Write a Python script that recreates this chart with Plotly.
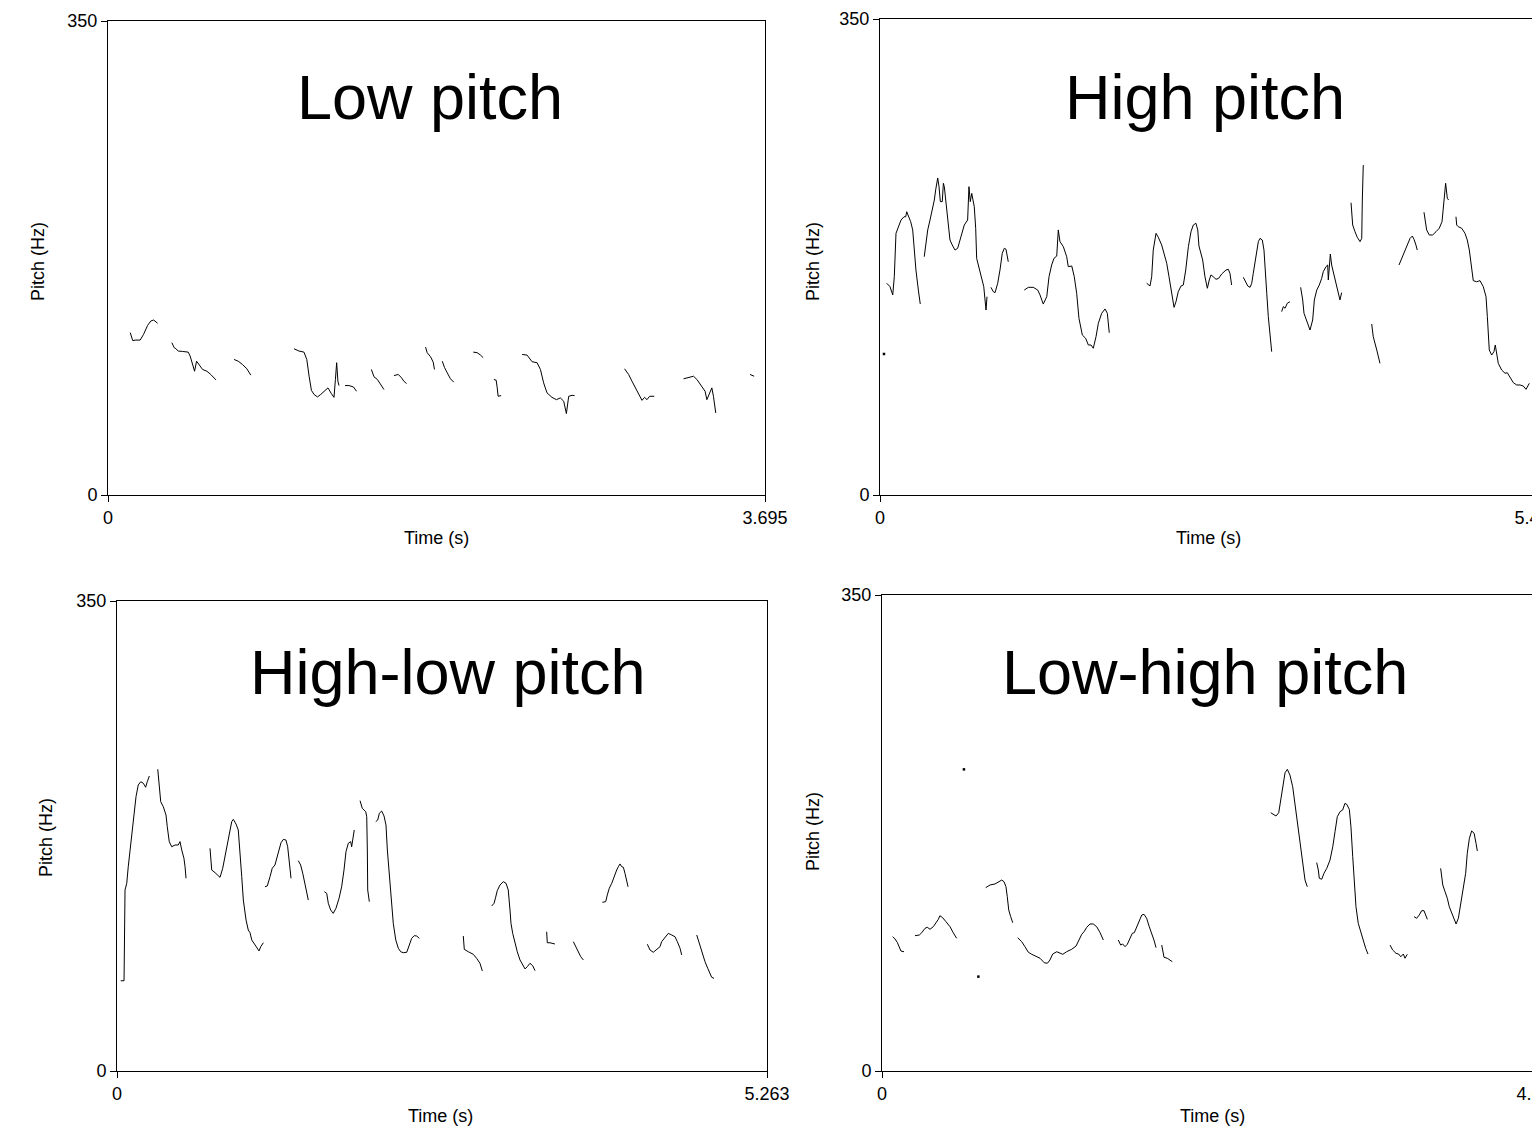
import plotly.graph_objects as go

# ---------------- data (time in s, pitch in Hz; None = unvoiced gap) ----------------
LOW_T = [0.125, 0.139, 0.157, 0.181, 0.200, 0.223, 0.241, 0.257, 0.279, None,
         0.359, 0.372, 0.382, 0.395, 0.419, 0.451, 0.462, 0.476, 0.487, 0.498, 0.513, 0.532, 0.556, 0.578, 0.607, None,
         0.709, 0.732, 0.756, 0.781, 0.803, None,
         1.046, 1.074, 1.102, 1.118, 1.131, 1.144, 1.159, 1.178, 1.196, 1.219, 1.237, 1.256, 1.271, 1.279, 1.286, 1.293, 1.299, None,
         1.333, 1.355, 1.380, 1.398, None,
         1.481, 1.496, 1.515, 1.533, 1.552, None,
         1.608, 1.633, 1.651, 1.664, 1.679, None,
         1.786, 1.795, 1.814, 1.829, 1.836, None,
         1.880, 1.893, 1.908, 1.926, 1.945, None,
         2.054, 2.076, 2.095, 2.110, None,
         2.170, 2.183, 2.189, 2.194, 2.211, None,
         2.329, 2.357, 2.385, 2.413, 2.432, 2.450, 2.469, 2.497, 2.522, 2.544, 2.563, 2.578, 2.591, 2.610, 2.624, None,
         2.905, 2.928, 2.947, 2.965, 2.984, 3.003, 3.018, 3.031, 3.046, 3.072, None,
         3.237, 3.265, 3.293, 3.312, 3.340, 3.358, 3.368, 3.383, 3.396, 3.405, 3.418, None,
         3.611, 3.634]
LOW_HZ = [119.9, 114.0, 114.4, 114.4, 118.6, 125.3, 128.5, 129.2, 126.8, None,
          112.5, 108.8, 108.0, 106.3, 106.0, 105.5, 102.6, 96.4, 91.4, 98.8, 96.4, 92.7, 91.4, 89.0, 85.0, None,
          100.1, 98.8, 96.4, 93.2, 88.5, None,
          108.0, 106.3, 105.5, 100.1, 87.7, 77.3, 74.2, 72.4, 74.2, 77.3, 79.1, 74.9, 72.1, 85.3, 97.7, 84.0, 80.8, None,
          80.8, 80.8, 79.8, 76.6, None,
          92.7, 87.3, 85.3, 81.6, 77.9, None,
          88.2, 89.0, 86.5, 84.0, 82.3, None,
          109.2, 105.1, 102.1, 98.1, 92.7, None,
          98.8, 94.0, 90.2, 85.8, 83.3, None,
          105.5, 105.1, 103.3, 101.4, None,
          85.3, 84.8, 79.1, 72.9, 73.4, None,
          103.8, 103.3, 98.4, 97.7, 92.7, 82.8, 75.4, 72.1, 70.4, 71.7, 69.2, 60.1, 72.9, 73.6, 73.4, None,
          93.2, 89.0, 84.0, 79.1, 74.2, 69.9, 72.1, 70.4, 72.9, 72.9, None,
          85.8, 87.0, 87.7, 85.3, 80.3, 76.6, 70.4, 75.4, 79.1, 72.9, 60.6, None,
          89.0, 87.7]

HIGH_T = [0.056, 0.083, 0.106, 0.119, 0.133, 0.152, 0.175, 0.200, 0.214, 0.222, 0.235, 0.255, 0.272, 0.285, 0.299, 0.319, 0.335, None,
          0.368, 0.388, 0.397, 0.416, 0.435, 0.452, 0.463, 0.472, 0.480, 0.491, 0.502, 0.518, 0.527, 0.535, 0.546, 0.563, 0.582,
          0.601, 0.624, 0.646, 0.665, 0.680, 0.701, 0.729, 0.740, 0.751, 0.763, 0.784, 0.796, 0.804, 0.823, 0.846, 0.863, 0.882, 0.890, None,
          0.923, 0.942, 0.957, 0.979, 0.998, 1.017, 1.034, 1.048, 1.067, None,
          1.200, 1.234, 1.275, 1.312, 1.331, 1.358, 1.387, 1.406, 1.428, 1.447, 1.470, 1.483, 1.497, 1.525, 1.553, 1.566,
          1.595, 1.616, 1.636, 1.655, 1.683, 1.711, 1.733, 1.755, 1.774, 1.797, 1.816, 1.844, 1.872, 1.891, 1.907, None,
          2.218, 2.246, 2.260, 2.273, 2.296, 2.315, 2.343, 2.365, 2.385, 2.404, 2.426, 2.446, 2.462, 2.481, 2.504, 2.523, 2.543,
          2.565, 2.587, 2.606, 2.628, 2.643, 2.653, 2.684, 2.703, 2.723, 2.739, 2.753, 2.772, 2.795, 2.817, 2.842, 2.878, 2.897, 2.911, 2.925, None,
          3.022, 3.042, 3.059, 3.078, 3.092, 3.105, 3.119, 3.133, 3.147, 3.161, 3.180, 3.194, 3.202, 3.217, 3.230, 3.244, 3.258, None,
          3.341, 3.355, 3.369, 3.388, 3.410, None,
          3.499, 3.516, 3.527, 3.549, 3.577, 3.599, 3.613, 3.633, 3.654, 3.674, 3.687, 3.710, 3.724, 3.729, 3.737, 3.746, 3.757,
          3.785, 3.804, 3.826, 3.840, None,
          3.918, 3.932, 3.951, 3.970, 3.993, 4.007, 4.012, 4.020, None,
          4.090, 4.103, 4.132, 4.159, None,
          4.317, 4.340, 4.361, 4.386, 4.409, 4.428, 4.442, 4.458, 4.469, None,
          4.525, 4.536, 4.547, 4.569, 4.597, 4.625, 4.652, 4.675, 4.686, 4.700, 4.705, 4.719, 4.730, None,
          4.791, 4.797, 4.810, 4.839, 4.866, 4.885, 4.902, 4.922, 4.935, 4.963, 4.991, 5.018, 5.041, 5.052, 5.068, 5.088,
          5.107, 5.118, 5.130, 5.143, 5.171, 5.199, 5.218, 5.240, 5.268, 5.296, 5.324, 5.351, 5.374, 5.401]
HIGH_HZ = [155.7, 153.2, 147.1, 160.5, 192.4, 197.3, 202.2, 204.6, 204.6, 208.3, 205.9, 201.0, 194.9, 180.1, 165.4, 150.7, 140.4, None,
           175.2, 187.5, 194.9, 202.2, 209.6, 216.9, 224.3, 231.6, 233.1, 226.7, 215.7, 215.7, 229.2, 226.7, 216.9, 202.2, 187.5,
           183.8, 180.1, 181.4, 187.5, 193.6, 198.5, 202.2, 226.7, 215.7, 221.8, 212.0, 196.1, 174.0, 167.9, 160.5, 153.2, 136.0, 145.8, None,
           152.7, 149.5, 148.8, 155.7, 165.4, 177.7, 181.4, 180.7, 171.5, None,
           150.7, 152.7, 152.7, 150.7, 147.1, 140.4, 145.8, 160.5, 169.1, 174.0, 175.7, 194.9, 186.3, 182.6, 175.2, 167.9,
           168.4, 160.5, 148.3, 129.9, 117.6, 115.2, 110.3, 110.3, 107.9, 116.4, 126.2, 133.6, 136.8, 133.6, 119.3, None,
           155.7, 153.7, 160.5, 180.1, 192.4, 189.5, 183.8, 177.7, 170.4, 160.5, 148.3, 138.0, 142.1, 149.5, 153.7, 154.4, 165.4,
           182.6, 193.6, 198.5, 199.8, 194.9, 183.1, 172.8, 160.5, 152.0, 158.1, 161.8, 160.5, 158.6, 159.3, 162.5, 165.4, 166.0, 163.0, 154.4, None,
           160.1, 156.8, 153.7, 152.7, 155.7, 163.0, 171.5, 180.1, 186.3, 188.7, 187.5, 180.1, 165.4, 148.3, 131.1, 116.4, 105.4, None,
           134.8, 138.5, 137.3, 141.0, 142.1, None,
           152.7, 143.4, 133.6, 127.4, 121.3, 128.7, 143.4, 150.7, 154.4, 159.3, 164.2, 167.9, 169.1, 158.1, 170.4, 177.2, 169.1,
           159.3, 150.7, 143.4, 148.8, None,
           214.9, 198.5, 193.6, 189.5, 186.3, 188.7, 216.9, 242.6, None,
           125.7, 116.4, 106.6, 96.8, None,
           169.1, 174.0, 177.7, 182.6, 188.7, 190.4, 188.0, 183.8, 180.1, None,
           207.9, 199.8, 194.9, 191.2, 191.2, 193.6, 196.1, 201.0, 212.0, 224.3, 229.2, 218.2, 216.9, None,
           204.6, 198.5, 197.3, 196.1, 192.4, 187.5, 180.1, 167.9, 157.6, 156.8, 157.6, 153.2, 145.8, 131.1, 106.6, 102.9,
           105.4, 110.3, 102.9, 96.8, 91.9, 89.5, 89.9, 87.0, 82.6, 80.9, 80.9, 80.1, 77.7, 82.1]
HIGH_DOT_T = [0.033]
HIGH_DOT_HZ = [103.7]

HILO_T = [0.030, 0.057, 0.065, 0.079, 0.091, 0.111, 0.132, 0.154, 0.172, 0.192, 0.213, 0.232, 0.245, 0.262, None,
          0.330, 0.340, 0.354, 0.375, 0.397, 0.407, 0.423, 0.443, 0.470, 0.496, 0.510, 0.524, 0.542, 0.551, 0.559, None,
          0.753, 0.767, 0.794, 0.812, 0.834, 0.856, 0.874, 0.893, 0.909, 0.929, 0.942, 0.964, 0.982, 0.996, 1.010, 1.023,
          1.045, 1.063, 1.077, 1.091, 1.109, 1.131, 1.150, 1.164, 1.185, None,
          1.198, 1.217, 1.239, 1.257, 1.279, 1.293, 1.312, 1.328, 1.347, 1.368, 1.382, 1.395, 1.409, None,
          1.468, 1.487, 1.504, 1.522, 1.536, 1.549, None,
          1.679, 1.698, 1.711, 1.730, 1.751, 1.773, 1.798, 1.819, 1.838, 1.854, 1.873, 1.892, 1.900, 1.913, 1.921, None,
          1.968, 1.986, 2.014, 2.022, 2.027, 2.030, 2.043, None,
          2.095, 2.111, 2.124, 2.143, 2.162, 2.178, 2.189, 2.205, 2.224, 2.237, 2.257, 2.278, 2.297, 2.318, 2.346, 2.364,
          2.386, 2.407, 2.427, 2.448, None,
          2.804, 2.812, 2.845, 2.885, 2.912, 2.939, 2.958, None,
          3.034, 3.053, 3.066, 3.079, 3.101, 3.128, 3.150, 3.168, 3.182, 3.190, 3.204, 3.223, 3.241, 3.263, 3.285, 3.304,
          3.322, 3.344, 3.366, 3.385, None,
          3.479, 3.484, 3.506, 3.546, None,
          3.695, 3.714, 3.735, 3.755, 3.776, None,
          3.930, 3.957, 3.970, 3.986, 4.006, 4.019, 4.032, 4.046, 4.059, 4.073, 4.087, 4.100, 4.113, 4.127, 4.138, None,
          4.294, 4.316, 4.342, 4.370, 4.397, 4.410, 4.437, 4.464, 4.491, 4.518, 4.537, 4.559, 4.572, None,
          4.694, 4.707, 4.721, 4.742, 4.761, 4.783, 4.801, 4.815, 4.834]
HILO_HZ = [67.2, 67.2, 134.8, 139.8, 152.1, 169.6, 189.4, 204.3, 213.0, 215.4, 214.3, 211.3, 215.4, 219.7, None,
           224.7, 214.3, 200.5, 196.8, 190.6, 181.9, 170.8, 167.0, 168.3, 168.3, 170.8, 164.6, 158.4, 152.1, 143.5, None,
           165.8, 149.7, 147.7, 146.0, 144.2, 151.0, 159.6, 169.6, 178.2, 185.7, 187.4, 183.9, 179.5, 164.6, 144.7, 127.3,
           112.4, 105.0, 103.0, 97.6, 95.1, 91.4, 89.4, 92.6, 95.5, None,
           137.2, 137.8, 144.7, 151.0, 153.4, 158.4, 165.8, 170.0, 172.5, 172.0, 167.0, 157.1, 143.5, None,
           156.6, 153.4, 147.2, 139.8, 133.5, 127.3, None,
           133.5, 132.3, 124.9, 119.9, 117.4, 121.2, 128.6, 137.2, 149.7, 163.3, 169.6, 170.8, 167.0, 174.5, 179.5, None,
           201.3, 195.6, 193.1, 189.4, 164.6, 134.8, 126.1, None,
           185.7, 186.9, 191.9, 193.6, 189.9, 183.2, 164.6, 144.7, 127.3, 110.0, 97.6, 91.4, 88.8, 88.1, 88.4, 92.6,
           98.8, 100.8, 100.5, 98.8, None,
           100.5, 90.6, 88.8, 86.9, 83.9, 80.2, 74.5, None,
           122.9, 124.9, 129.4, 134.3, 138.5, 141.0, 139.8, 134.8, 119.9, 110.0, 102.5, 95.1, 88.8, 82.7, 78.9, 76.0,
           77.7, 80.2, 78.4, 74.7, None,
           103.7, 95.5, 95.5, 94.6, None,
           96.3, 92.6, 87.7, 85.1, 82.7, None,
           125.6, 126.1, 131.1, 136.1, 139.8, 143.5, 146.0, 149.7, 152.1, 154.2, 152.1, 151.7, 147.2, 142.2, 137.2, None,
           94.4, 90.1, 88.4, 90.6, 92.6, 96.3, 99.6, 102.5, 101.3, 100.0, 96.3, 91.4, 86.4, None,
           101.3, 97.6, 92.6, 86.4, 81.4, 76.5, 72.0, 69.8, 69.0]

LOHI_T = [0.066, 0.080, 0.094, 0.107, 0.117, 0.136, None,
          0.203, 0.230, 0.245, 0.265, 0.279, 0.296, 0.316, 0.333, 0.347, 0.357, 0.374, 0.394, 0.419, 0.439, 0.460, None,
          0.639, 0.666, 0.696, 0.717, 0.738, 0.752, 0.764, 0.772, 0.781, 0.793, 0.806, None,
          0.836, 0.861, 0.881, 0.902, 0.923, 0.943, 0.974, 1.000, 1.019, 1.035, 1.052, 1.077, 1.097, 1.114, 1.138, 1.169,
          1.196, 1.216, 1.231, 1.245, 1.262, 1.282, 1.302, 1.323, 1.344, 1.364, None,
          1.456, 1.471, 1.483, 1.498, 1.512, 1.528, 1.543, 1.555, 1.570, 1.586, 1.601, 1.615, 1.631, 1.647, 1.662, 1.676, 1.689, None,
          1.724, 1.730, 1.738, 1.758, 1.775, 1.789, None,
          2.396, 2.412, 2.428, 2.445, 2.457, 2.470, 2.484, 2.498, 2.514, 2.531, 2.545, 2.560, 2.576, 2.593, 2.607, 2.621, None,
          2.679, 2.689, 2.695, 2.710, 2.724, 2.741, 2.761, 2.778, 2.792, 2.806, 2.823, 2.839, 2.853, 2.864, 2.880, 2.890,
          2.901, 2.911, 2.921, 2.935, 2.950, 2.966, 2.981, 2.995, None,
          3.131, 3.147, 3.168, 3.184, 3.197, 3.213, 3.223, 3.237, None,
          3.279, 3.295, 3.311, 3.326, 3.340, 3.351, 3.361, None,
          3.443, 3.449, 3.456, 3.470, 3.484, 3.496, 3.511, 3.525, 3.538, 3.552, 3.567, 3.583, 3.597, 3.607, 3.620, 3.634,
          3.649, 3.661, 3.669]
LOHI_HZ = [98.8, 97.1, 94.6, 91.4, 88.2, 87.7, None,
           99.5, 100.0, 101.7, 104.9, 105.7, 104.2, 106.1, 109.0, 111.5, 114.2, 112.7, 109.8, 106.1, 101.7, 97.6, None,
           134.8, 136.8, 137.5, 139.2, 140.4, 139.2, 135.5, 128.2, 118.4, 113.5, 109.0, None,
           98.0, 95.1, 91.4, 87.3, 85.8, 84.8, 82.9, 79.6, 79.2, 81.6, 86.0, 87.7, 86.5, 85.8, 87.7, 89.5,
           91.9, 96.3, 100.5, 102.4, 105.7, 108.1, 108.1, 106.1, 101.7, 96.3, None,
           96.3, 92.6, 93.4, 91.4, 93.2, 97.6, 101.3, 101.7, 106.1, 111.0, 114.7, 115.2, 112.3, 106.1, 101.3, 96.3, 90.7, None,
           92.6, 87.7, 83.6, 82.9, 81.6, 80.4, None,
           189.9, 189.0, 187.5, 189.9, 199.3, 210.3, 219.3, 221.8, 217.6, 209.0, 196.8, 184.6, 169.9, 155.1, 140.4, 135.5, None,
           153.2, 147.8, 141.7, 141.0, 145.4, 149.0, 155.1, 164.9, 176.0, 187.0, 190.7, 191.9, 196.8, 196.1, 192.4, 179.6,
           157.6, 138.0, 120.8, 108.6, 102.4, 96.3, 90.2, 86.0, None,
           92.6, 89.0, 86.5, 86.0, 84.0, 86.0, 82.9, 85.8, None,
           113.5, 112.3, 114.7, 117.9, 117.9, 114.7, 111.5, None,
           149.0, 142.9, 136.8, 131.8, 127.0, 120.8, 116.0, 111.0, 108.1, 112.3, 123.3, 133.1, 145.4, 160.1, 171.1, 176.5,
           174.8, 167.4, 161.8]
LOHI_DOT_T = [0.505, 0.594]
LOHI_DOT_HZ = [221.8, 69.4]

TITLES = ["Low pitch", "High pitch", "High-low pitch", "Low-high pitch"]
T_MAX = [3.695, 5.465, 5.263, 4.049]
T_MAX_LABELS = ["3.695", "5.465", "5.263", "4.049"]
PITCH_MAX = 350

# ---------------- layout helpers ----------------
# The page body has an 8 px margin, so the figure is 8 px smaller and positions are shifted by 8 px.
OFF = 8
W, H = 1540 - OFF, 1128 - OFF
FONT = "Liberation Sans, Arial, Helvetica, sans-serif"

# panel boxes in screen pixels: left, right, top, bottom
BOXES = [(108, 765, 21, 495), (880, 1537, 19, 495), (117, 767, 601, 1071), (882, 1539, 595, 1071)]
TITLE_POS = [(430, 97), (1205, 97), (448, 672), (1205, 672)]
XTITLE_POS = [(436, 538), (1208, 538), (440, 1116), (1212, 1116)]
YTITLE_POS = [(38, 262), (813, 262), (46, 838), (813, 832)]

def px(x):
    return (x - OFF) / W

def py(y):
    return 1 - (y - OFF) / H

fig = go.Figure()
series = [(LOW_T, LOW_HZ, None, None), (HIGH_T, HIGH_HZ, HIGH_DOT_T, HIGH_DOT_HZ),
          (HILO_T, HILO_HZ, None, None), (LOHI_T, LOHI_HZ, LOHI_DOT_T, LOHI_DOT_HZ)]

annotations = []
for i, (t, hz, dt, dhz) in enumerate(series):
    n = i + 1
    xa = "x" if n == 1 else f"x{n}"
    ya = "y" if n == 1 else f"y{n}"
    fig.add_trace(go.Scatter(x=t, y=hz, mode="lines", line=dict(color="black", width=1),
                             connectgaps=False, xaxis=xa, yaxis=ya, showlegend=False, hoverinfo="skip",
                             cliponaxis=True))
    if dt is not None:
        fig.add_trace(go.Scatter(x=dt, y=dhz, mode="markers", marker=dict(color="black", size=2.5, symbol="square"),
                                 xaxis=xa, yaxis=ya, showlegend=False, hoverinfo="skip"))
    l, r, tp, b = BOXES[i]
    axcommon = dict(showline=True, mirror=True, linecolor="black", linewidth=1, showgrid=False, zeroline=False,
                    ticks="outside", ticklen=6, tickwidth=1, tickcolor="black", automargin=False,
                    ticklabeloverflow="allow",
                    tickfont=dict(family=FONT, size=18, color="black"), fixedrange=True)
    xkey = "xaxis" if n == 1 else f"xaxis{n}"
    ykey = "yaxis" if n == 1 else f"yaxis{n}"
    fig.update_layout(**{
        xkey: dict(domain=[px(l), min(px(r), 1.0)], range=[0, T_MAX[i]], anchor=ya,
                   tickvals=[0, T_MAX[i]], ticktext=["0", T_MAX_LABELS[i]], **axcommon),
        ykey: dict(domain=[py(b), py(tp)], range=[0, PITCH_MAX], anchor=xa,
                   tickvals=[0, PITCH_MAX], ticktext=["0", "350"], **axcommon),
    })
    annotations.append(dict(text=TITLES[i], x=px(TITLE_POS[i][0]), y=py(TITLE_POS[i][1]), xref="paper", yref="paper",
                            xanchor="center", yanchor="middle", showarrow=False,
                            font=dict(family=FONT, size=63, color="black")))
    annotations.append(dict(text="Time (s)", x=px(XTITLE_POS[i][0]), y=py(XTITLE_POS[i][1]), xref="paper", yref="paper",
                            xanchor="center", yanchor="middle", showarrow=False,
                            font=dict(family=FONT, size=18, color="black")))
    annotations.append(dict(text="Pitch (Hz)", x=px(YTITLE_POS[i][0]), y=py(YTITLE_POS[i][1]), xref="paper", yref="paper",
                            xanchor="center", yanchor="middle", showarrow=False, textangle=-90,
                            font=dict(family=FONT, size=18, color="black")))

fig.update_layout(width=W, height=H, margin=dict(l=0, r=0, t=0, b=0, autoexpand=False),
                  paper_bgcolor="white", plot_bgcolor="white", annotations=annotations)

fig.write_html("out.html")
